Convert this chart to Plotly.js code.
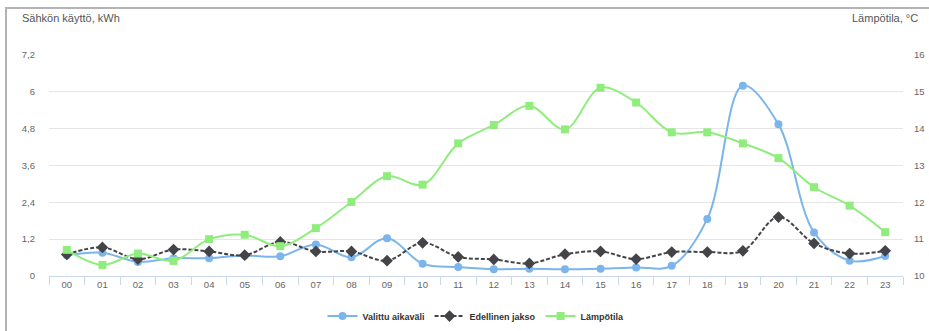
<!DOCTYPE html>
<html>
<head>
<meta charset="utf-8">
<script src="https://cdn.plot.ly/plotly-3.0.1.min.js"></script>
<style>
html,body{margin:0;padding:0;background:#fff;}
#wrap{position:relative;width:929px;height:331px;overflow:hidden;}
#chart{width:929px;height:331px;}
#frame{position:absolute;left:5px;top:7px;width:930px;height:340px;border-left:2px solid #b4b4b4;border-top:2px solid #b4b4b4;pointer-events:none;}
</style>
</head>
<body>
<div id="wrap"><div id="chart"></div><div id="frame"></div></div>
<script>
const hours = ["00","01","02","03","04","05","06","07","08","09","10","11","12","13","14","15","16","17","18","19","20","21","22","23"];
const selected = [0.68,0.76,0.46,0.58,0.58,0.67,0.64,1.03,0.61,1.23,0.40,0.29,0.22,0.24,0.22,0.24,0.28,0.33,1.86,6.20,4.94,1.42,0.50,0.65];
const previous = [0.70,0.93,0.55,0.86,0.80,0.68,1.11,0.80,0.80,0.50,1.08,0.62,0.54,0.41,0.71,0.80,0.55,0.78,0.78,0.82,1.92,1.06,0.73,0.82];
const temperature = [10.71,10.30,10.61,10.41,11.00,11.12,10.81,11.30,12.01,12.71,12.48,13.60,14.10,14.62,13.98,15.11,14.71,13.90,13.90,13.60,13.20,12.41,11.91,11.19];
const leftTicks = [0,1.2,2.4,3.6,4.8,6,7.2];
const leftTitle = "Sähkön käyttö, kWh";
const rightTitle = "Lämpötila, °C";
const seriesNames = ["Valittu aikaväli","Edellinen jakso","Lämpötila"];

const FONT = "Liberation Sans, Arial, sans-serif";
const traces = [
  {x: hours, y: selected, name: seriesNames[0], type: 'scatter', mode: 'lines+markers',
   line: {color: '#7cb5ec', width: 2, shape: 'spline', smoothing: 1},
   marker: {symbol: 'circle', size: 8, color: '#7cb5ec'}, yaxis: 'y'},
  {x: hours, y: previous, name: seriesNames[1], type: 'scatter', mode: 'lines+markers',
   line: {color: '#434348', width: 2, shape: 'spline', smoothing: 1, dash: '4px,2px'},
   marker: {symbol: 'diamond', size: 9, color: '#434348'}, yaxis: 'y'},
  {x: hours, y: temperature, name: seriesNames[2], type: 'scatter', mode: 'lines+markers',
   line: {color: '#90ed7d', width: 2, shape: 'spline', smoothing: 1},
   marker: {symbol: 'square', size: 8, color: '#90ed7d'}, yaxis: 'y2'}
];
const layout = {
  width: 929, height: 331,
  margin: {l: 49, r: 26, t: 55, b: 55},
  paper_bgcolor: '#fff', plot_bgcolor: '#fff',
  separators: ', ',
  font: {family: FONT, size: 9, color: '#666'},
  title: {text: leftTitle, xref: 'container', yref: 'container', x: 22/929, xanchor: 'left',
          y: 1 - 18/331, yanchor: 'middle', font: {family: FONT, size: 11, color: '#555'}},
  showlegend: true,
  legend: {orientation: 'h', x: 0.5, xanchor: 'center', yref: 'container', y: 0.045, yanchor: 'middle',
           font: {family: FONT, size: 9, color: '#333', weight: 'bold'}, itemwidth: 30},
  xaxis: {type: 'category', range: [-0.5, 23.5], showgrid: false, zeroline: false,
          showline: true, linecolor: '#ccd6eb', linewidth: 1,
          ticks: 'outside', tickson: 'boundaries', ticklen: 8, tickcolor: '#ccd6eb',
          tickfont: {family: FONT, size: 9.5, color: '#666'}},
  yaxis: {range: [0, 7.2], tickvals: leftTicks, showgrid: true, gridcolor: '#e6e6e6',
          zeroline: false, showline: false, ticks: '', ticklabelstandoff: 13,
          tickfont: {family: FONT, size: 9.5, color: '#666'}},
  yaxis2: {range: [10, 16], dtick: 1, overlaying: 'y', side: 'right', showgrid: false,
           zeroline: false, showline: false, ticks: '', ticklabelstandoff: 10,
           tickfont: {family: FONT, size: 9.5, color: '#666'}},
  annotations: [
    {text: rightTitle, xref: 'paper', yref: 'paper', x: 1.017, y: 1.167, xanchor: 'right', yanchor: 'middle',
     xshift: 2, showarrow: false, font: {family: FONT, size: 11, color: '#555'}}
  ]
};
Plotly.newPlot('chart', traces, layout, {displayModeBar: false, staticPlot: true});
</script>
</body>
</html>
